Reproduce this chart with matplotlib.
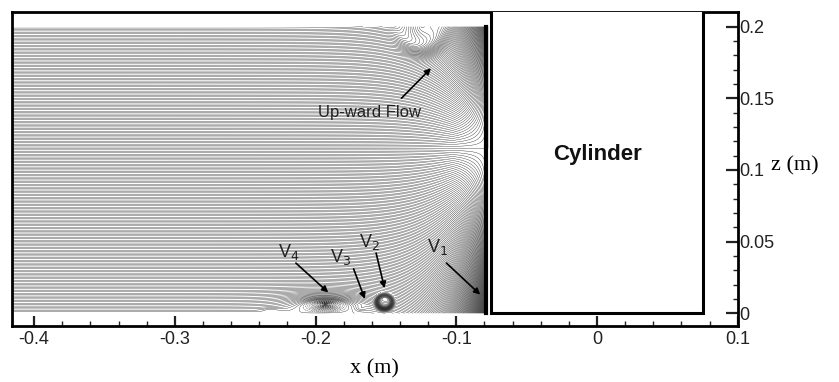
import numpy as np
import matplotlib.pyplot as plt
from matplotlib.patches import Rectangle

# axes
x_ticks = [-0.4, -0.3, -0.2, -0.1, 0, 0.1]
x_labels = ['-0.4', '-0.3', '-0.2', '-0.1', '0', '0.1']
z_ticks = [0, 0.05, 0.1, 0.15, 0.2]
z_labels = ['0', '0.05', '0.1', '0.15', '0.2']

# geometry
cyl_left, cyl_right = -0.075, 0.075
face_x = -0.0775          # where the upstream flow meets the cylinder
surface_z = 0.2
x_start = -0.416

# flow features
div_z = 0.115             # dividing streamline: above goes up, below goes down
face_width = 0.02
vort_x = [-0.193, -0.151, -0.232, -0.168]
vort_z = [0.0062, 0.0078, 0.0022, 0.0035]
vort_a = [0.011, 0.0058, 0.006, 0.004]
vort_b = [0.0032, 0.0052, 0.0014, 0.002]
vort_s = [-0.03, 0.022, -0.0015, 0.002]
vort_p = [1.0, 4.0, 2.0, 2.0]
# surface eddy (the U-shaped lines near the top)
eddy_x, eddy_r, eddy_dip, eddy_k = -0.125, 0.017, 0.008, 0.5

# labels
notes = ['Up-ward Flow', 'V$_4$', 'V$_3$', 'V$_2$', 'V$_1$']
note_xy = [(-0.162, 0.140), (-0.219, 0.043), (-0.182, 0.039), (-0.162, 0.050), (-0.113, 0.046)]
tail_xy = [(-0.139, 0.150), (-0.214, 0.035), (-0.173, 0.031), (-0.157, 0.042), (-0.107, 0.035)]
head_xy = [(-0.118, 0.171), (-0.191, 0.0145), (-0.165, 0.010), (-0.151, 0.0175), (-0.083, 0.013)]

# stream function on the upstream region
X, Z = np.meshgrid(np.linspace(x_start, face_x, 1600), np.linspace(0, surface_z, 900))
psi = Z.copy()
for xv, zv, a, b, s, p in zip(vort_x, vort_z, vort_a, vort_b, vort_s, vort_p):
    r1 = ((X - xv) / a) ** 2 + ((Z - zv) / b) ** 2
    r2 = ((X - xv) / a) ** 2 + ((Z + zv) / b) ** 2
    psi += s * (np.exp(-r1 ** (p / 2)) - np.exp(-r2 ** (p / 2)))
rho = np.hypot(X - eddy_x, Z - surface_z)
w = np.exp(-(rho / eddy_r) ** 4)
psi = psi * (1 - w) + (surface_z - eddy_dip + eddy_k * rho) * w
blend = 1 - np.exp(-(face_x - X) / face_width)
psi = div_z + (psi - div_z) * blend

levels = np.arange(-0.03, 0.2001, 0.001)

fig = plt.figure(figsize=(8.39, 3.82), dpi=100)
ax = fig.add_axes([0.0139, 0.1466, 0.8654, 0.8212])
ax.contour(X, Z, psi, levels=levels, colors='#111', linewidths=0.25)

ax.add_patch(Rectangle((cyl_left, 0), cyl_right - cyl_left, 0.3, facecolor='white',
                       edgecolor='black', lw=2.2, zorder=3))
ax.plot([face_x - 0.0012, face_x - 0.0012], [0, surface_z], color='black', lw=3, zorder=2)
ax.text(0, 0.111, 'Cylinder', ha='center', va='center', fontsize=16, fontweight='bold',
        family='Liberation Sans', color='#111', zorder=4)

for t, xy, tl, hd in zip(notes, note_xy, tail_xy, head_xy):
    ax.text(xy[0], xy[1], t, ha='center', va='center', fontsize=12 if len(t) > 5 else 13,
            family='Liberation Sans', color='#222', zorder=5)
    ax.annotate('', xy=hd, xytext=tl, zorder=5,
                arrowprops=dict(arrowstyle='-|>', color='black', lw=1.2,
                                mutation_scale=9, shrinkA=0, shrinkB=0))

ax.set_xlim(-0.416, 0.0985)
ax.set_ylim(-0.0089, 0.210)
ax.set_xticks(x_ticks)
ax.set_xticklabels(x_labels)
ax.set_yticks(z_ticks)
ax.set_yticklabels(z_labels)
ax.set_xticks(np.arange(-0.4, 0.1, 0.02), minor=True)
ax.set_yticks(np.arange(0, 0.21, 0.01), minor=True)
ax.yaxis.tick_right()
ax.tick_params(which='both', direction='in', labelsize=13, colors='#222',
               labelfontfamily='Liberation Sans', width=1.6)
ax.tick_params(which='major', length=7)
ax.tick_params(which='minor', length=3.5, width=1)
ax.tick_params(axis='y', which='major', length=9, pad=1)
for sp in ax.spines.values():
    sp.set_linewidth(2)
ax.set_xlabel('x (m)', family='Liberation Serif', fontsize=16, labelpad=8)
fig.text(0.947, 0.565, 'z (m)', family='Liberation Serif', fontsize=16, ha='center', va='center')

fig.savefig('out.png', dpi=100)
